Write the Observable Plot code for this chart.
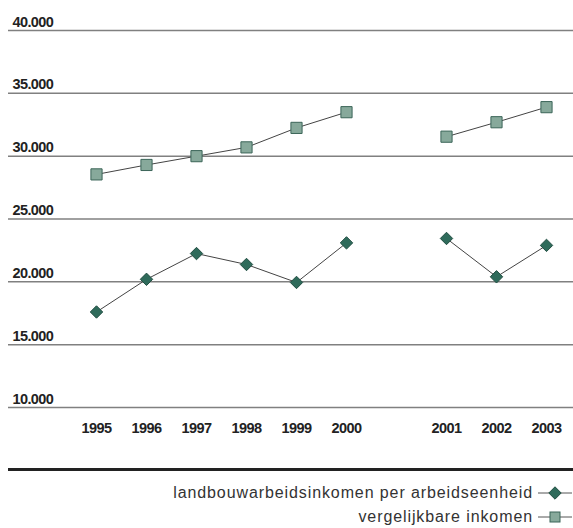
<!DOCTYPE html>
<html>
<head>
<meta charset="utf-8">
<script src="https://cdn.jsdelivr.net/npm/d3@7"></script>
<script src="https://cdn.jsdelivr.net/npm/@observablehq/plot@0.6"></script>
<style>
  html, body { margin: 0; padding: 0; background: #fff; }
  #chart svg { display: block; }
  #chart svg text { letter-spacing: -0.6px; }
  .bar { margin-left: 8px; width: 565px; height: 3px; background: #222; margin-top: 18px; }
  .legend { margin-top: 10px; font-family: "Liberation Sans", Arial, sans-serif; font-size: 16px; letter-spacing: 0.9px; color: #333; }
  .row { display: flex; justify-content: flex-end; align-items: center; height: 24px; line-height: 24px; padding-right: 1px; }
  .row svg { margin-left: 5px; }
</style>
</head>
<body>
<div id="chart"></div>
<div class="bar"></div>
<div class="legend" id="legend"></div>
<script>
const years = ["1995","1996","1997","1998","1999","2000","2001","2002","2003"];
const landbouw = [17600, 20200, 22250, 21380, 19950, 23100, 23450, 20400, 22900];
const vergelijkbaar = [28550, 29300, 30000, 30700, 32250, 33500, 31550, 32700, 33900];
const yTicks = [10000, 15000, 20000, 25000, 30000, 35000, 40000];
const seriesNames = ["landbouwarbeidsinkomen per arbeidseenheid", "vergelijkbare inkomen"];
const gapSlot = " ";

const xDomain = [...years.slice(0, 6), gapSlot, ...years.slice(6)];
const seg = y => (+y <= 2000 ? "a" : "b");
const rowsL = years.map((y, i) => ({year: y, value: landbouw[i], series: seriesNames[0], seg: seg(y)}));
const rowsV = years.map((y, i) => ({year: y, value: vergelijkbaar[i], series: seriesNames[1], seg: seg(y)}));
const fmt = d => d3.format(",")(d).replace(/,/g, ".");

const font = "'Liberation Sans', Arial, sans-serif";

const chart = Plot.plot({
  width: 573,
  height: 450,
  marginLeft: 68,
  marginRight: 0,
  marginTop: 30,
  marginBottom: 43,
  style: {fontFamily: font, fontSize: "14.5px", color: "#222", background: "#fff"},
  x: {type: "point", domain: xDomain, padding: 0.5, axis: null},
  y: {domain: [10000, 40000], axis: null},
  marks: [
    Plot.ruleY(yTicks, {stroke: "#808080", strokeWidth: 1.5, insetLeft: -60}),
    Plot.text(yTicks, {y: d => d, text: fmt, frameAnchor: "left", textAnchor: "start", lineAnchor: "bottom", dx: -56, dy: -4, fontWeight: "bold", fill: "#222"}),
    Plot.axisX({ticks: years, tickSize: 0, tickPadding: 15, fontWeight: "bold", fill: "#222", label: null}),
    Plot.line(rowsV, {x: "year", y: "value", z: "seg", stroke: "#444", strokeWidth: 1}),
    Plot.line(rowsL, {x: "year", y: "value", z: "seg", stroke: "#444", strokeWidth: 1}),
    Plot.dot(rowsV, {x: "year", y: "value", symbol: "square", r: 6.3, fill: "#87a99b", stroke: "#3b6558", strokeWidth: 1}),
    Plot.dot(rowsL, {x: "year", y: "value", symbol: "diamond2", r: 5.6, fill: "#2f6b5b", stroke: "#234f43", strokeWidth: 1})
  ]
});
document.getElementById("chart").appendChild(chart);

const legend = document.getElementById("legend");
const swatches = [
  `<svg width="34" height="14"><line x1="0" x2="34" y1="7" y2="7" stroke="#555" stroke-width="1"/><path d="M17 0.8 L23.2 7 L17 13.2 L10.8 7 Z" fill="#2f6b5b" stroke="#234f43"/></svg>`,
  `<svg width="34" height="14"><line x1="0" x2="34" y1="7" y2="7" stroke="#555" stroke-width="1"/><rect x="12" y="2" width="10" height="10" fill="#87a99b" stroke="#3b6558"/></svg>`
];
seriesNames.forEach((name, i) => {
  const row = document.createElement("div");
  row.className = "row";
  const span = document.createElement("span");
  span.textContent = name;
  row.appendChild(span);
  row.insertAdjacentHTML("beforeend", swatches[i]);
  legend.appendChild(row);
});
</script>
</body>
</html>
